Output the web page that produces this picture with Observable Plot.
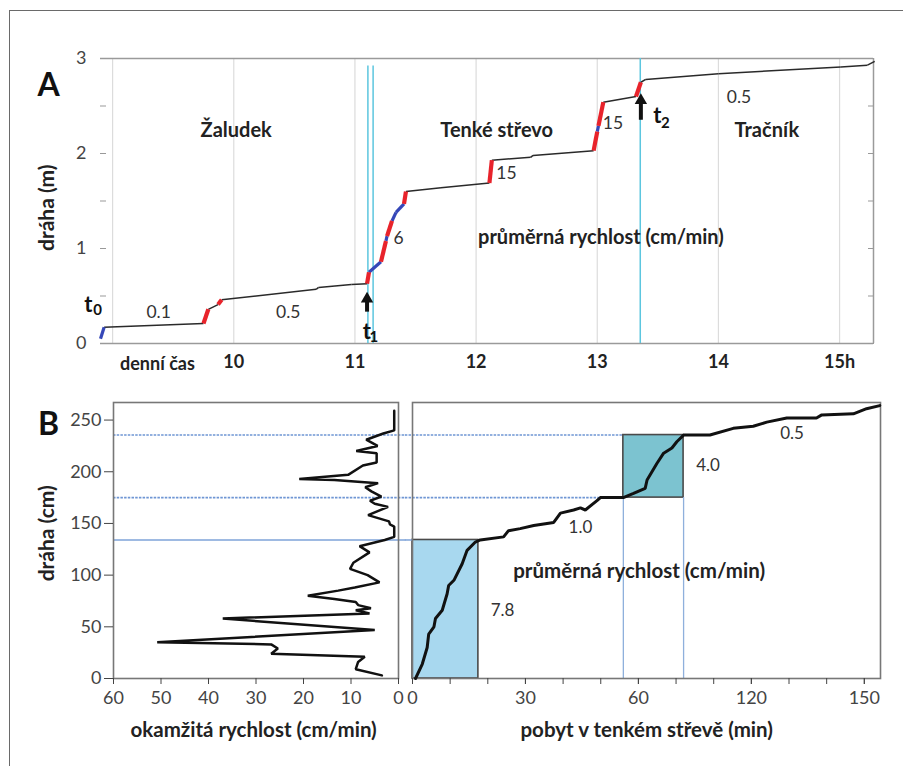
<!DOCTYPE html>
<html><head><meta charset="utf-8">
<script src="https://cdn.jsdelivr.net/npm/d3@7"></script>
<script src="https://cdn.jsdelivr.net/npm/@observablehq/plot@0.6"></script>
<style>
body{margin:0;background:#fff;}
#wrap{position:relative;width:903px;height:766px;overflow:hidden;background:#fff;}
#frame{position:absolute;left:9px;top:10px;width:900px;height:760px;border-left:1.5px solid #6a6a6a;border-top:1.5px solid #6a6a6a;}
.p{position:absolute;}
</style></head><body>
<div id="wrap"><div id="frame"></div>
<div id="a" class="p" style="left:0;top:0"></div>
<div id="bl" class="p" style="left:0;top:380px"></div>
<div id="br" class="p" style="left:405px;top:380px"></div>
</div>
<script>
const FONT = "Lato, 'Open Sans', 'DejaVu Sans', sans-serif";

// ---------------- Panel A data ----------------
const aTime = [8.90, 8.93, 9.75, 9.79, 9.87, 9.90, 10.68, 10.70, 10.97, 11.10, 11.116, 11.215, 11.256, 11.265, 11.306, 11.339, 11.405, 11.421, 11.71, 12.11, 12.13, 12.45, 12.47, 12.97, 13.00, 13.01, 13.05, 13.32, 13.36, 13.40, 14.00, 15.01, 15.23, 15.29];
const aDist = [0.05, 0.17, 0.21, 0.36, 0.41, 0.46, 0.57, 0.59, 0.62, 0.63, 0.75, 0.86, 1.08, 1.13, 1.29, 1.38, 1.47, 1.60, 1.64, 1.69, 1.93, 1.96, 1.98, 2.03, 2.23, 2.29, 2.54, 2.60, 2.75, 2.78, 2.84, 2.91, 2.93, 2.97];
const aSeg  = ["", "b", "k", "r", "k", "r", "k", "k", "k", "k", "r", "b", "r", "b", "r", "b", "b", "r", "k", "k", "r", "k", "k", "k", "r", "b", "r", "k", "r", "k", "k", "k", "k", "k"];
const aHourTicks = [10, 11, 12, 13, 14, 15];
const aHourLabels = ["10", "11", "12", "13", "14", "15h"];
const aGridHours = [9, 10, 11, 12, 13, 14, 15];
const aDistTicks = [0, 1, 2, 3];
const aMinorTicks = [0, 0.5, 1, 1.5, 2, 2.5, 3];
const aCyanTimes = [11.107, 11.15, 13.355];
const aCyanTop = [2.92, 2.92, 3.0];
const aRegionNames = ["Žaludek", "Tenké střevo", "Tračník", "průměrná rychlost (cm/min)"];
const aRegionTime = [10.02, 12.17, 14.40, 13.03];
const aRegionDist = [2.24, 2.24, 2.24, 1.12];
const aRateText = ["0.1", "0.5", "6", "15", "15", "0.5"];
const aRateTime = [9.38, 10.45, 11.36, 12.25, 13.13, 14.17];
const aRateDist = [0.33, 0.33, 1.11, 1.79, 2.32, 2.59];
const aMarkText = ["t", "t", "t"];
const aMarkSub = ["0", "1", "2"];
const aMarkTime = [8.80, 11.099, 13.496];
const aMarkDist = [0.41, 0.126, 2.40];
const aSubTime = [8.875, 11.157, 13.562];
const aSubDist = [0.35, 0.063, 2.32];
const aArrowTime = [11.10, 13.36];
const aArrowTail = [0.33, 2.35];
const aArrowShaft = [0.47, 2.55];
const aArrowHead = [0.47, 2.56];

// ---------------- Panel B left data ----------------
const bDistL = [259, 240, 237, 231, 225, 220, 218, 209, 206, 197, 193, 192, 189, 185, 181, 176, 172, 169, 166, 158, 152, 149, 147, 137, 134, 128, 122, 112, 106, 100, 93, 88, 85, 80, 77, 74, 71, 68, 66, 63, 58, 47, 35, 33, 29, 24, 21, 16, 9, 3];
const bSpeed = [0.9, 0.9, 3.2, 6.8, 4.4, 8.9, 4.6, 4.6, 7.5, 10.6, 20.9, 13.5, 4.3, 7.0, 5.7, 3.6, 6.0, 5.0, 2.2, 6.4, 2.0, 1.8, 0.9, 0.9, 2.9, 8.2, 6.1, 9.5, 10.2, 6.5, 4.0, 9.2, 12.7, 19.1, 13.5, 9.0, 8.5, 5.8, 9.0, 6.1, 37.0, 5.0, 50.8, 26.8, 25.4, 26.8, 7.1, 8.5, 9.0, 3.5];
const bSpeedTicks = [60, 50, 40, 30, 20, 10, 0];
const bDistTicks = [0, 50, 100, 150, 200, 250];

// ---------------- Panel B right data ----------------
const bTime = [0.8, 2.6, 3.9, 4.3, 5.7, 6.1, 7.9, 9.2, 9.6, 11.0, 13.2, 14.5, 16.7, 18.0, 24.2, 25.5, 28.6, 32.2, 37.5, 39.3, 42.8, 44.6, 45.9, 49.0, 49.9, 56.0, 58.7, 61.8, 62.3, 64.9, 66.7, 68.9, 70.2, 72.0, 79.0, 85.2, 90.5, 94.1, 99.4, 107.3, 108.7, 117.1, 120.6, 124.1];
const bDistR = [0, 14, 30, 43, 50, 58, 66, 82, 90, 95, 111, 124, 132, 134, 137, 143, 145, 148, 151, 160, 163, 165, 163, 172, 175, 175, 179, 184, 192, 208, 218, 223, 229, 235.5, 235.5, 242, 244, 248, 252, 252, 255, 256, 261, 264];
const bTimeTicks = [0, 10, 20, 30, 40, 50, 60, 70, 80, 90, 100, 110, 120];
const bTimeLabelVals = [0, 30, 60, 90, 120];
const bTimeLabels = ["0", "30", "60", "120", "150"];
const boxT1 = [0, 56], boxT2 = [17.5, 72], boxD1 = [0, 175], boxD2 = [134, 235.5];
const boxFill = ["#a8d8ef", "#7cc3d0"];
const guideDist = [235.5, 175, 134];
const guideDotted = [true, true, false];
const guideEnd = [56, 56, 0];
const vGuideTime = [56, 72];
const vGuideTop = [175, 175];
const bRateText = ["7.8", "1.0", "4.0", "0.5"];
const bRateTime = [23.9, 44.6, 78.5, 100.8];
const bRateDist = [66, 146, 206, 237];

// ---------------- Panel A ----------------
const segs = d3.range(1, aTime.length).map(i => ({x1: aTime[i-1], y1: aDist[i-1], x2: aTime[i], y2: aDist[i], c: aSeg[i]}));
const xA = [8.9, 15.28];
const style = {fontFamily: FONT, background: "transparent", overflow: "visible"};
const idx = a => a.map((_, i) => i);

const plotA = Plot.plot({
  width: 903, height: 380, marginLeft: 100, marginRight: 30, marginTop: 58, marginBottom: 37,
  x: {domain: xA, label: null}, y: {domain: [0, 3], label: null},
  style,
  marks: [
    Plot.ruleX(aGridHours, {stroke: "#dcdcdc", strokeWidth: 1.2}),
    Plot.ruleY([0, 3], {stroke: "#9a9a9a", strokeWidth: 1.5}),
    Plot.ruleX([xA[1]], {stroke: "#9a9a9a", strokeWidth: 1.5}),
    Plot.axisY({ticks: aMinorTicks, tickSize: 6, dx: 6, tickFormat: () => "", color: "#999"}),
    Plot.axisY({anchor: "right", ticks: aMinorTicks, tickSize: 6, dx: -6, tickFormat: () => "", color: "#999"}),
    Plot.axisY({ticks: aDistTicks, tickSize: 0, tickPadding: 14, tickFormat: d => String(d), fontSize: 18, color: "#444"}),
    Plot.axisX({ticks: aHourTicks, tickFormat: d => aHourLabels[aHourTicks.indexOf(d)], tickSize: 0, tickPadding: 12, fontSize: 18, fontWeight: "bold", color: "#222"}),
    Plot.ruleX(idx(aCyanTimes), {x: i => aCyanTimes[i], y1: () => 0, y2: i => aCyanTop[i], stroke: "#5cc6df", strokeWidth: 1.5}),
    Plot.link(segs.filter(s => s.c === "k"), {x1: "x1", y1: "y1", x2: "x2", y2: "y2", stroke: "#2a2a2a", strokeWidth: 1.5}),
    Plot.link(segs.filter(s => s.c === "b"), {x1: "x1", y1: "y1", x2: "x2", y2: "y2", stroke: "#3547b8", strokeWidth: 3.2}),
    Plot.link(segs.filter(s => s.c === "r"), {x1: "x1", y1: "y1", x2: "x2", y2: "y2", stroke: "#e8232b", strokeWidth: 4.2}),
    Plot.text(idx(aRegionNames), {x: i => aRegionTime[i], y: i => aRegionDist[i], text: i => aRegionNames[i], fontSize: 20, fontWeight: "bold", fill: "#222"}),
    Plot.text(idx(aRateText), {x: i => aRateTime[i], y: i => aRateDist[i], text: i => aRateText[i], fontSize: 17.5, fill: "#333"}),
    Plot.text(idx(aMarkText), {x: i => aMarkTime[i], y: i => aMarkDist[i], text: i => aMarkText[i], fontSize: 22, fontWeight: "bold", fill: "#111"}),
    Plot.text(idx(aMarkSub), {x: i => aSubTime[i], y: i => aSubDist[i], text: i => aMarkSub[i], fontSize: 15, fontWeight: "bold", fill: "#111"}),
    Plot.ruleX(idx(aArrowTime), {x: i => aArrowTime[i], y1: i => aArrowTail[i], y2: i => aArrowShaft[i], stroke: "#111", strokeWidth: 4}),
    Plot.dot(idx(aArrowTime), {x: i => aArrowTime[i], y: i => aArrowHead[i], symbol: "triangle", r: 4.6, fill: "#111", stroke: "none"}),
    Plot.text(["A"], {x: () => 8.471, y: () => 2.716, text: d => d, fontSize: 32, fontWeight: "bold", fill: "#111"}),
    Plot.text(["dráha (m)"], {x: () => 8.463, y: () => 1.43, text: d => d, rotate: -90, fontSize: 21, fontWeight: "bold", fill: "#222"}),
    Plot.text(["denní čas"], {x: () => 9.37, y: () => -0.22, text: d => d, fontSize: 18, fontWeight: "bold", fill: "#222"})
  ]
});
document.getElementById("a").append(plotA);

// ---------------- Panel B left ----------------
const yB = [0, 267];
const speedRows = bDistL.map((d, i) => ({d, v: bSpeed[i]}));
const plotBL = Plot.plot({
  width: 405, height: 386, marginLeft: 113, marginRight: 7, marginTop: 22, marginBottom: 88,
  x: {domain: [60, 0], label: null}, y: {domain: yB, label: null},
  style,
  marks: [
    Plot.ruleY(guideDist.filter((d, i) => guideDotted[i]), {x1: () => 60, x2: () => -1.6, stroke: "#6f96d4", strokeWidth: 1.6, strokeDasharray: "2.5,1.2"}),
    Plot.ruleY(guideDist.filter((d, i) => !guideDotted[i]), {x1: () => 60, x2: () => -1.6, stroke: "#7ea3d8", strokeWidth: 1.5}),
    Plot.frame({stroke: "#777", strokeWidth: 1.6}),
    Plot.axisY({ticks: bDistTicks, tickSize: 9, tickPadding: 3, fontSize: 18, color: "#444"}),
    Plot.axisX({ticks: bSpeedTicks, tickSize: 6, tickPadding: 7, fontSize: 18, color: "#444"}),
    Plot.line(speedRows, {x: "v", y: "d", stroke: "#111", strokeWidth: 2.5, strokeLinejoin: "miter"}),
    Plot.text(["okamžitá rychlost (cm/min)"], {x: () => 30.5, y: () => -50.4, text: d => d, fontSize: 20.5, fontWeight: "bold", fill: "#222"}),
    Plot.text(["dráha (cm)"], {x: () => 73.9, y: () => 140.5, text: d => d, rotate: -90, fontSize: 21, fontWeight: "bold", fill: "#222"}),
    Plot.text(["B"], {x: () => 73.7, y: () => 245, text: d => d, fontSize: 32, fontWeight: "bold", fill: "#111"})
  ]
});
document.getElementById("bl").append(plotBL);

// ---------------- Panel B right ----------------
const timeRows = bTime.map((t, i) => ({t, d: bDistR[i]}));
const plotBR = Plot.plot({
  width: 498, height: 386, marginLeft: 7, marginRight: 23, marginTop: 22, marginBottom: 88,
  x: {domain: [0, 124.3], label: null}, y: {domain: yB, label: null, axis: null},
  style,
  marks: [
    Plot.rect(idx(boxT1), {x1: i => boxT1[i], x2: i => boxT2[i], y1: i => boxD1[i], y2: i => boxD2[i], fill: i => boxFill[i], stroke: "#4a4a4a", strokeWidth: 1.6}),
    Plot.ruleX(idx(vGuideTime), {x: i => vGuideTime[i], y1: () => 0, y2: i => vGuideTop[i], stroke: "#8fb0dc", strokeWidth: 1.3}),
    Plot.ruleY(idx(guideDist).filter(i => guideDotted[i]), {y: i => guideDist[i], x1: () => -1.9, x2: i => guideEnd[i], stroke: "#6f96d4", strokeWidth: 1.6, strokeDasharray: "2.5,1.2"}),
    Plot.ruleY(idx(guideDist).filter(i => !guideDotted[i]), {y: i => guideDist[i], x1: () => -1.9, x2: i => guideEnd[i], stroke: "#7ea3d8", strokeWidth: 1.5}),
    Plot.frame({stroke: "#777", strokeWidth: 1.6}),
    Plot.axisX({ticks: bTimeTicks, tickSize: 6, tickFormat: () => "", color: "#444"}),
    Plot.axisX({ticks: bTimeLabelVals, tickSize: 6, tickPadding: 7, tickFormat: d => bTimeLabels[bTimeLabelVals.indexOf(d)], fontSize: 18, color: "#444"}),
    Plot.line(timeRows, {x: "t", y: "d", stroke: "#111", strokeWidth: 3, strokeLinejoin: "miter"}),
    Plot.text(idx(bRateText), {x: i => bRateTime[i], y: i => bRateDist[i], text: i => bRateText[i], fontSize: 17, fill: "#333"}),
    Plot.text(["průměrná rychlost (cm/min)"], {x: () => 60.2, y: () => 103.5, text: d => d, fontSize: 20.5, fontWeight: "bold", fill: "#222"}),
    Plot.text(["pobyt v tenkém střevě (min)"], {x: () => 62.2, y: () => -50.4, text: d => d, fontSize: 20.5, fontWeight: "bold", fill: "#222"})
  ]
});
document.getElementById("br").append(plotBR);
</script>
</body></html>
